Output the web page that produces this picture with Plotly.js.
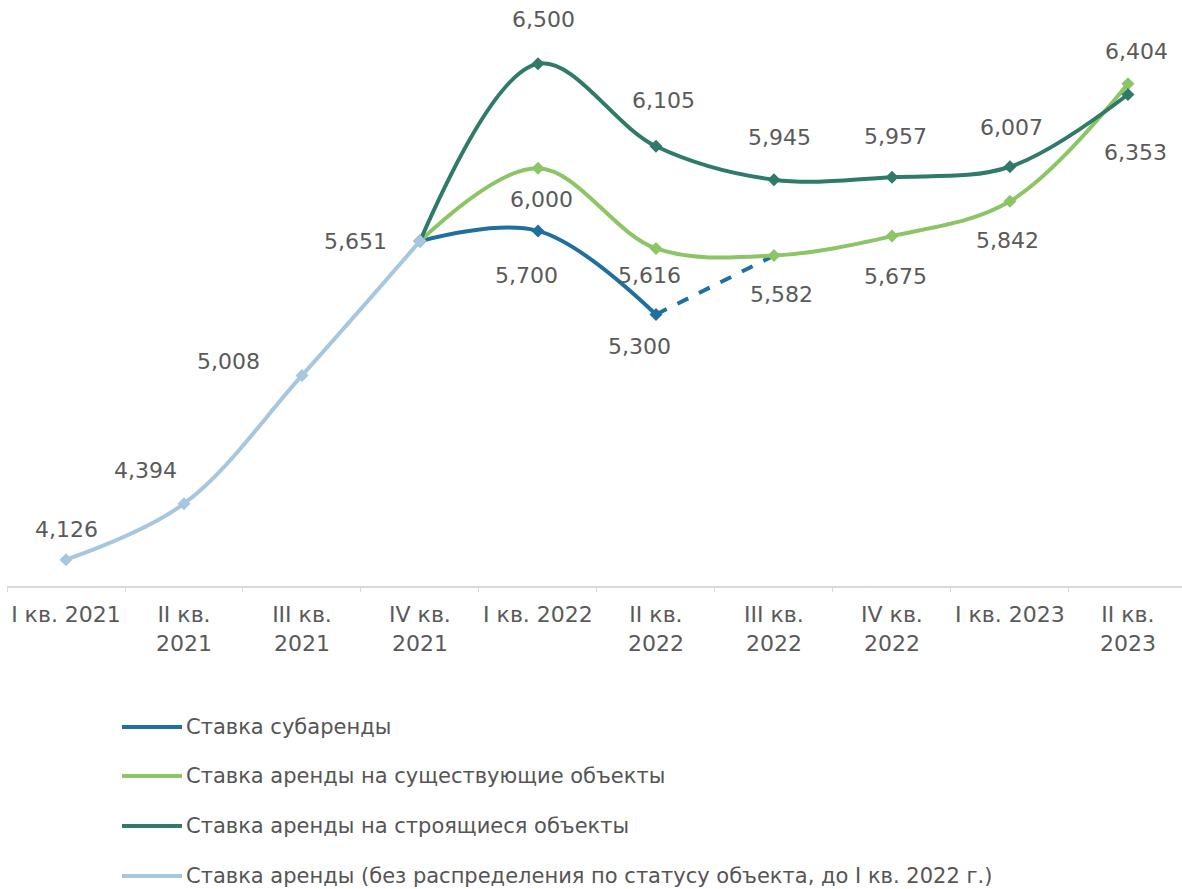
<!DOCTYPE html>
<html>
<head>
<meta charset="utf-8">
<script src="https://cdn.plot.ly/plotly-3.0.1.min.js"></script>
<style>html,body{margin:0;padding:0;background:#fff;}#chart{width:1182px;height:889px;}</style>
</head>
<body>
<div id="chart"></div>
<script>
// Categories (quarters)
const quarters = ["I кв. 2021","II кв.<br>2021","III кв.<br>2021","IV кв.<br>2021","I кв. 2022","II кв.<br>2022","III кв.<br>2022","IV кв.<br>2022","I кв. 2023","II кв.<br>2023"];

// Series values (RUB per sq.m per year)
const baseQ = [0,1,2,3];
const baseRate = [4126, 4394, 5008, 5651];

const subQ = [3,4,5];
const subRate = [5651, 5700, 5300];
const subDashQ = [5,6];
const subDashRate = [5300, 5582];

const existQ = [3,4,5,6,7,8,9];
const existRate = [5651, 6000, 5616, 5582, 5675, 5842, 6404];

const buildQ = [3,4,5,6,7,8,9];
const buildRate = [5651, 6500, 6105, 5945, 5957, 6007, 6353];

const names = [
  "Ставка субаренды",
  "Ставка аренды на существующие объекты",
  "Ставка аренды на строящиеся объекты",
  "Ставка аренды (без распределения по статусу объекта, до I кв. 2022 г.)"
];

const colors = {sub:"#1f6f9f", exist:"#8cc565", build:"#2f7a68", base:"#a6c7df"};
const legendColors = [colors.sub, colors.exist, colors.build, colors.base];

const xs = q => q.map(i => quarters[i]);

function lineTrace(q, v, color, name, dash) {
  return {
    x: xs(q), y: v, type: "scatter", mode: "lines+markers", name: name, showlegend: false,
    line: {color: color, width: 4, shape: "spline", smoothing: 1, dash: dash || "solid"},
    marker: {symbol: "diamond", size: dash ? 0.1 : 10, color: color},
    hoverinfo: "skip", cliponaxis: false
  };
}

const traces = [
  lineTrace(subDashQ, subDashRate, colors.sub, names[0], "dash"),
  lineTrace(subQ, subRate, colors.sub, names[0]),
  lineTrace(existQ, existRate, colors.exist, names[1]),
  lineTrace(buildQ, buildRate, colors.build, names[2]),
  lineTrace(baseQ, baseRate, colors.base, names[3])
];

// Label offsets (pixels) relative to each point
const labelSets = [
  {q: baseQ, v: baseRate, off: [[0,30],[-38,33],[-73,14],[-64,0]]},
  {q: subQ.slice(1), v: subRate.slice(1), off: [[-11,-45],[-16,-32]]},
  {q: existQ.slice(1), v: existRate.slice(1), off: [[4,-31],[-6,-27],[8,-39],[4,-40],[-2,-39],[9,32]]},
  {q: buildQ.slice(1), v: buildRate.slice(1), off: [[6,44],[8,46],[6,42],[4,41],[2,39],[8,-58]]}
];
const fmt = n => String(n).replace(/\B(?=(\d{3})+(?!\d))/g, ",");
const annotations = [];
labelSets.forEach(s => {
  s.q.forEach((qi, i) => {
    annotations.push({
      x: quarters[qi], y: s.v[i], xref: "x", yref: "y",
      text: fmt(s.v[i]), showarrow: false,
      xshift: s.off[i][0], yshift: s.off[i][1],
      font: {family: "DejaVu Sans, Verdana, sans-serif", size: 22, color: "#5a5a5a"}
    });
  });
});

// Legend drawn below the plot (paper coordinates)
const W = 1182, H = 889, ML = 7, MR = 0, MT = 22, MB = 303;
const pw = W - ML - MR, ph = H - MT - MB;
const px2x = px => (px - ML) / pw;
const py2y = py => (H - MB - py) / ph;
const legendRows = [727, 776, 826, 876];
const shapes = [];
names.forEach((n, i) => {
  const yy = py2y(legendRows[i]);
  shapes.push({type: "line", xref: "paper", yref: "paper", x0: px2x(122), x1: px2x(182), y0: yy, y1: yy,
    line: {color: legendColors[i], width: 4}});
  annotations.push({xref: "paper", yref: "paper", x: px2x(184), y: yy, xanchor: "left", yanchor: "middle",
    text: n, showarrow: false, font: {family: "DejaVu Sans, Verdana, sans-serif", size: 21, color: "#555555"}});
});

const layout = {
  width: W, height: H,
  margin: {l: ML, r: MR, t: MT, b: MB},
  paper_bgcolor: "#ffffff", plot_bgcolor: "#ffffff",
  showlegend: false,
  xaxis: {
    type: "category", categoryorder: "array", categoryarray: quarters,
    range: [-0.5, 9.458],
    showgrid: false, zeroline: false,
    showline: true, linecolor: "#d9d9d9", linewidth: 1.5,
    ticks: "outside", tickson: "boundaries", ticklen: 4, tickcolor: "#d9d9d9",
    ticklabelstandoff: 8, tickangle: 0,
    tickfont: {family: "DejaVu Sans, Verdana, sans-serif", size: 22, color: "#595959"},
    fixedrange: true
  },
  yaxis: {
    range: [4000, 6700], visible: false, fixedrange: true
  },
  shapes: shapes,
  annotations: annotations
};

Plotly.newPlot("chart", traces, layout, {displayModeBar: false, staticPlot: true});
</script>
</body>
</html>
